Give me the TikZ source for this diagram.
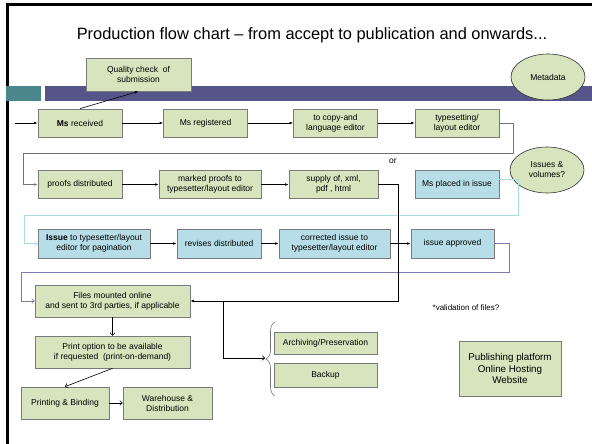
\documentclass[tikz,border=0pt]{standalone}
\usepackage{fontspec}
\setmainfont{Liberation Sans}
\usetikzlibrary{positioning, calc, arrows.meta, shapes.geometric, decorations.pathreplacing}
\definecolor{boxgreen}{HTML}{D7E4BD}
\definecolor{boxblue}{HTML}{B7DEE8}
\definecolor{boxedge}{HTML}{7A7A7A}
\definecolor{barteal}{HTML}{4A868B}
\definecolor{barpurple}{HTML}{55558A}
\definecolor{lineblue}{HTML}{A8DCE4}
\definecolor{linepurple}{HTML}{7C7CB0}

\begin{document}
\begin{tikzpicture}[
            x=1pt, y=-1pt,
            stagebox/.style = {align=center, inner sep=2pt, text centered, rectangle, draw=boxedge, line width=0.7pt,
                    fill=boxgreen, font=\fontsize{8.5}{10}\selectfont, minimum width=84pt, minimum height=28pt},
            issuebox/.style = {stagebox, fill=boxblue},
            bubble/.style = {ellipse, draw=black!80, line width=0.6pt, fill=boxgreen, align=center,
                    font=\fontsize{8.5}{10}\selectfont, minimum width=74pt, minimum height=46pt, inner sep=0pt},
            flow/.style = {-{Latex[length=3.5pt,width=2.6pt]}, line width=0.6pt},
            openflow/.style = {-{To[length=3pt,width=5pt]}, line width=0.6pt}
        ]
        \useasboundingbox (0,0) rectangle (592,444);
        % slide frame and bars
        \draw[line width=3pt] (7.5,444) -- (7.5,4.5) -- (592,4.5);
        \fill[barteal] (6,86) rectangle (41,101);
        \fill[barpurple] (45,86) rectangle (592,101);

        \node (title) at (312,35) {\fontsize{16.4}{18}\selectfont Production flow chart – from accept to publication and onwards...};

        \node (quality)    [stagebox, minimum width=105pt, minimum height=33pt] at (138.5,74.5) {Quality check\ \ of\\ submission};
        \node (metadata)   [bubble] at (548,77) {Metadata};

        % first row
        \node (received)   [stagebox] at (80,123) {\textbf{Ms} received};
        \node (registered) [stagebox] at (205.5,123) {Ms registered};
        \node (copyed)     [stagebox] at (335.5,123) {to copy-and\\ language editor};
        \node (typeset)    [stagebox] at (457,123) {typesetting/\\ layout editor};

        % second row
        \node (proofs)     [stagebox] at (80,184.5) {proofs distributed};
        \node (marked)     [stagebox, minimum width=102pt] at (210,184.5) {marked proofs to\\ typesetter/layout editor};
        \node (supply)     [stagebox, minimum width=89pt] at (333.5,184.5) {supply of, xml,\\ pdf , html};
        \node (orlabel)    [font=\fontsize{8.5}{10}\selectfont] at (393,161) {or};
        \node (placed)     [issuebox] at (457,184) {Ms placed in issue};
        \node (volumes)    [bubble] at (547,170) {Issues \&\\ volumes?};

        % third row
        \node (issue)      [issuebox, minimum width=112pt, minimum height=29pt] at (94,243.5) {\textbf{Issue} to typesetter/layout\\ editor for pagination};
        \node (revises)    [issuebox, minimum height=29pt] at (219,243.5) {revises distributed};
        \node (corrected)  [issuebox, minimum width=111pt, minimum height=29pt] at (334.5,243.5) {corrected issue to\\ typesetter/layout editor};
        \node (approved)   [issuebox, minimum width=83pt, minimum height=29pt] at (452.5,243.5) {issue approved};

        % after publication
        \node (mounted)    [stagebox, minimum width=155pt, minimum height=32pt] at (112.5,301) {Files mounted online\\ and sent to 3rd parties, if applicable};
        \node (printopt)   [stagebox, minimum width=155pt, minimum height=32pt] at (112.5,352) {Print option to be available\\ if requested\ \ (print-on-demand)};
        \node (printing)   [stagebox, minimum width=88pt, minimum height=32pt] at (65,403) {Printing \& Binding};
        \node (warehouse)  [stagebox, minimum width=89pt, minimum height=32pt] at (167.5,403) {Warehouse \&\\ Distribution};
        \node (archiving)  [stagebox, minimum width=103pt, minimum height=22pt] at (325.5,343) {Archiving/Preservation};
        \node (backup)     [stagebox, minimum width=103pt, minimum height=24pt] at (325.5,375) {Backup};
        \node (validation) [font=\fontsize{8}{10}\selectfont] at (466,308) {*validation of files?};
        \node (platform)   [stagebox, minimum width=102pt, minimum height=55pt, font=\fontsize{9.8}{11.5}\selectfont] at (510,368.5) {Publishing platform\\ Online Hosting\\ Website};

        \coordinate (start)   at (15,123);
        \coordinate (turnA)   at (513,153);
        \coordinate (turnB)   at (23,153);
        \coordinate (turnC)   at (398,301);
        \coordinate (turnD)   at (518,215);
        \coordinate (turnE)   at (24,215);
        \coordinate (turnF)   at (509,272);
        \coordinate (turnG)   at (21,272);
        \coordinate (fork)    at (223,301);
        \coordinate (bracetop) at (275,322);
        \coordinate (bracebot) at (275,396);
        \coordinate (bracetip) at (265,358);

        \draw[flow] (start) -- (received);
        \draw[flow] (received) -- (registered);
        \draw[flow] (registered) -- (copyed);
        \draw[flow] (copyed) -- (typeset);
        \draw[flow] (received.north) -- (quality.south);
        \draw[flow, draw=black!55, line width=0.9pt] (typeset.east) -| (turnA) -- (turnB) |- (proofs.west);

        \draw[flow] (proofs) -- (marked);
        \draw[flow] (marked) -- (supply);
        \draw[openflow, draw=lineblue] ([yshift=5pt]placed.east) -| (turnD) -- (turnE) |- (issue.west);

        \draw[flow] (issue) -- (revises);
        \draw[flow] (revises) -- (corrected);
        \draw[flow] (corrected) -- (approved);
        \draw[openflow, draw=linepurple] (approved.east) -| (turnF) -- (turnG) |- (mounted.west);

        \draw[flow] (supply.east) -| (turnC) -- (mounted.east);
        \draw[openflow] (fork) |- (bracetip);
        \draw[draw=black!55, line width=0.6pt, decorate, decoration={brace, amplitude=9pt}] (bracebot) -- (bracetop);

        \draw[openflow] (mounted) -- (printopt);
        \draw[openflow] (printopt.south) -- (printing.north);
        \draw[openflow] (printing) -- (warehouse);
    \end{tikzpicture}
\end{document}
